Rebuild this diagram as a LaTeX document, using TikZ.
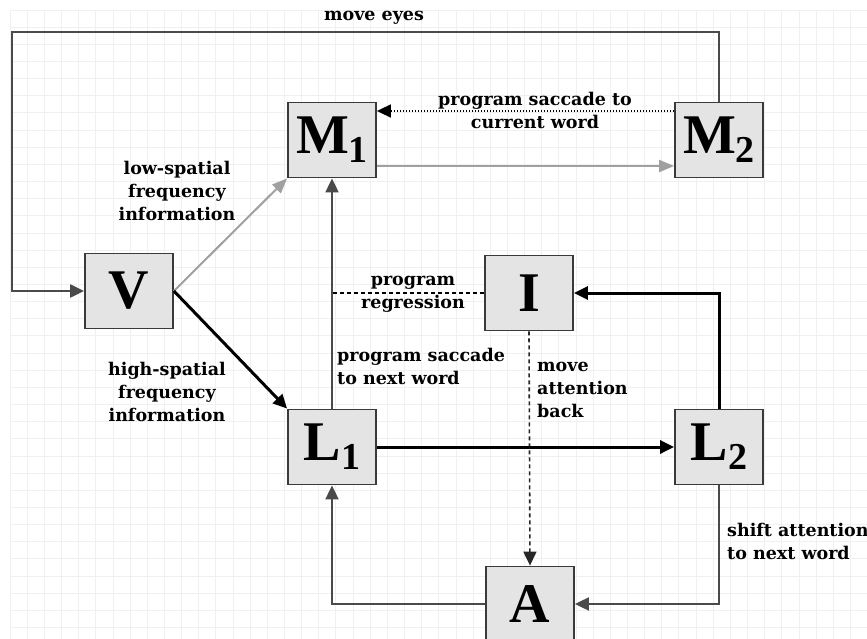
\documentclass[tikz,border=0pt]{standalone}
\usepackage{fontspec}
\setmainfont{Liberation Serif}
\newfontfamily\lblfont{DejaVu Serif}
\usetikzlibrary{arrows.meta}
\definecolor{gridc}{HTML}{F0F0F0}
\definecolor{boxfill}{HTML}{E4E4E4}
\definecolor{boxline}{HTML}{3A3A3A}
\definecolor{midc}{HTML}{4A4A4A}
\definecolor{lightc}{HTML}{A0A0A0}
\newcommand\subdig[1]{\raisebox{-9pt}{\fontsize{38}{38}\selectfont #1}}
\tikzset{
  x=1pt,y=-1pt,
  box/.style={draw=boxline,line width=1.8pt,fill=boxfill,minimum width=88pt,minimum height=75pt,inner sep=0pt,font=\fontsize{56}{56}\selectfont\bfseries},
  lbl/.style={font=\lblfont\fontsize{17.5}{23}\selectfont\bfseries,align=center,inner sep=0pt},
  lbll/.style={lbl,align=left,anchor=west},
  tip/.style={-{Triangle[length=14pt,width=13pt]}},
  heavy/.style={line width=3pt,black,tip},
  medium/.style={line width=1.9pt,midc,tip},
  light/.style={line width=2pt,lightc,-{Triangle[length=15pt,width=12pt,fill=lightc]}},
}
\begin{document}
\begin{tikzpicture}
\useasboundingbox (0,0) rectangle (867,639);
\clip (0,0) rectangle (867,639);
\fill[white] (0,0) rectangle (867,639);
\foreach \i in {0,...,50} \draw[gridc,line width=0.8pt] (10+17.15*\i,10) -- (10+17.15*\i,639);
\foreach \j in {0,...,37} \draw[gridc,line width=0.8pt] (10,10+17.15*\j) -- (867,10+17.15*\j);

\node[box] (M1) at (332,140) {M\subdig{1}};
\node[box] (M2) at (719,140) {M\subdig{2}};
\node[box] (V) at (129,291) {V};
\node[box] (I) at (529,293) {I};
\node[box] (L1) at (332,447) {L\subdig{1}};
\node[box] (L2) at (719,447) {L\subdig{2}};
\node[box] (A) at (530,604) {A};

\coordinate (tl) at (12,32);
\draw[line width=2.2pt,midc,tip] (M2.north) |- (tl) |- (V.west);
\draw[light] (V.east) -- (M1.south west);
\draw[heavy] (V.east) -- (L1.north west);
\draw[light] ([yshift=-26pt]M1.east) -- ([yshift=-26pt]M2.west);
\draw[line width=1.6pt,black,dash pattern=on 1.5pt off 1.5pt,-{Triangle[length=14pt,width=13pt]}] ([yshift=29pt]M2.west) -- ([yshift=29pt]M1.east);
\draw[medium] (L1.north) -- (M1.south);
\draw[line width=1.5pt,black,dash pattern=on 4pt off 3pt] (I.west) -- (I.west -| M1.south);
\draw[line width=1.6pt,black!85,dash pattern=on 4pt off 3pt,-{Triangle[length=14pt,width=13pt]}] (I.south) -- (A.north);
\draw[heavy] (L1.east) -- (L2.west);
\draw[heavy] (L2.north) |- (I.east);
\draw[medium] (L2.south) |- (A.east);
\draw[medium] (A.west) -| (L1.south);

\node[lbl] (t1) at (374,18) {move eyes};
\node[lbl] (t2) at (535,110) {program saccade to\\current word};
\node[lbl] (t3) at (177,191) {low-spatial\\frequency\\information};
\node[lbl] (t4) at (167,392) {high-spatial\\frequency\\information};
\node[lbl] (t5) at (413,294) {program\\regression};
\node[lbll] (t6) at (337,366) {program saccade\\to next word};
\node[lbll] (t7) at (537,390) {move\\attention\\back};
\node[lbll] (t8) at (727,541) {shift attention\\to next word};
\end{tikzpicture}
\end{document}
